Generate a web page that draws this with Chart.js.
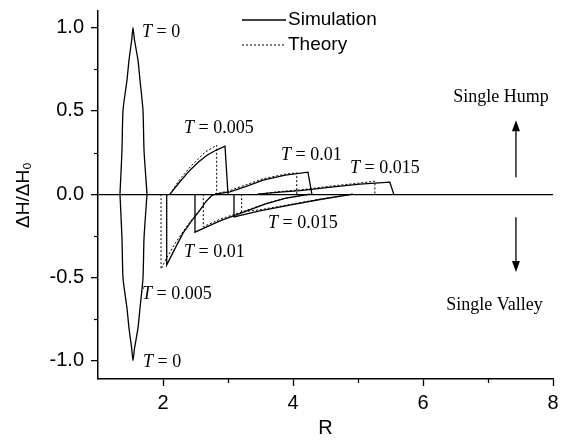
<!DOCTYPE html>
<html>
<head>
<meta charset="utf-8">
<script src="https://cdn.jsdelivr.net/npm/chart.js@4.4.1/dist/chart.umd.min.js"></script>
<style>
  body { margin: 0; background: #fff; }
  #wrap { width: 562px; height: 443px; }
</style>
</head>
<body>
<div id="wrap"><canvas id="myChart" width="562" height="443"></canvas></div>
<script>
// T = 0 (same for simulation and theory)
var t0UpR = [1.338, 1.369, 1.385, 1.446, 1.477, 1.518, 1.538, 1.562, 1.615, 1.646, 1.692, 1.708, 1.754];
var t0UpV = [0, 0.264, 0.505, 0.685, 0.805, 0.925, 1.0, 0.925, 0.805, 0.685, 0.505, 0.264, 0];
var t0DnV = [0, -0.264, -0.505, -0.685, -0.805, -0.925, -1.0, -0.925, -0.805, -0.685, -0.505, -0.264, 0];

// simulation, humps and valleys
var sim005HumpR = [2.108, 2.25, 2.415, 2.55, 2.677, 2.82, 2.954, 3.0];
var sim005HumpV = [0, 0.07, 0.144, 0.195, 0.234, 0.265, 0.288, 0];
var sim005ValR = [2.057, 2.057, 2.18, 2.308, 2.44, 2.569, 2.66, 2.75, 2.82];
var sim005ValV = [0, -0.426, -0.33, -0.234, -0.16, -0.096, -0.045, -0.008, 0];
var sim01HumpR = [2.8, 3.03, 3.29, 3.54, 3.88, 4.23, 4.29];
var sim01HumpV = [0, 0.014, 0.048, 0.084, 0.114, 0.132, 0];
var sim01ValR = [2.492, 2.492, 2.877, 3.262, 3.569, 3.877, 4.26];
var sim01ValV = [0, -0.228, -0.16, -0.105, -0.06, -0.025, 0];
var sim015HumpR = [3.46, 3.8, 4.11, 4.62, 5.03, 5.49, 5.55];
var sim015HumpV = [0, 0.012, 0.021, 0.044, 0.06, 0.072, 0];
var sim015ValR = [3.092, 3.092, 3.49, 3.95, 4.415, 4.92];
var sim015ValV = [0, -0.136, -0.1, -0.066, -0.032, 0];

// theory
var th005HumpR = [2.108, 2.25, 2.415, 2.55, 2.646, 2.826, 2.826];
var th005HumpV = [0, 0.085, 0.162, 0.215, 0.252, 0.294, 0];
var th005ValR = [1.97, 1.97, 2.06, 2.18, 2.308, 2.44, 2.569, 2.66, 2.75, 2.82];
var th005ValV = [0, -0.45, -0.38, -0.30, -0.225, -0.155, -0.094, -0.044, -0.008, 0];
var th01HumpR = [2.8, 3.03, 3.29, 3.54, 3.88, 4.057, 4.057];
var th01HumpV = [0, 0.022, 0.058, 0.093, 0.12, 0.128, 0];
var th01ValR = [2.62, 2.62, 2.877, 3.262, 3.569, 3.877, 4.26];
var th01ValV = [0, -0.196, -0.15, -0.1, -0.058, -0.024, 0];
var th015HumpR = [3.46, 3.8, 4.11, 4.62, 5.03, 5.26, 5.26];
var th015HumpV = [0, 0.016, 0.026, 0.05, 0.067, 0.078, 0];
var th015ValR = [3.21, 3.21, 3.49, 3.95, 4.415, 4.92];
var th015ValV = [0, -0.106, -0.094, -0.062, -0.03, 0];

// T labels: text, R, value (left edge, middle)
var tLabelText = ['0', '0.005', '0.01', '0.015', '0.015', '0.01', '0.005', '0'];
var tLabelR = [1.677, 2.323, 3.815, 4.877, 3.615, 2.323, 1.677, 1.692];
var tLabelV = [0.973, 0.396, 0.234, 0.156, -0.174, -0.348, -0.6, -1.009];

var xTicks = [2, 4, 6, 8];
var xMinor = [3, 5, 7];
var yTicks = [-1.0, -0.5, 0.0, 0.5, 1.0];
var yMinor = [-0.75, -0.25, 0.25, 0.75];

function pts(rs, vs) {
  return rs.map(function (r, i) { return { x: r, y: vs[i] }; });
}

function simSet(rs, vs, tension) {
  return { data: pts(rs, vs), borderColor: '#000', borderWidth: 1.3, pointRadius: 0, showLine: true, tension: tension || 0, fill: false };
}
function thSet(rs, vs) {
  return { data: pts(rs, vs), borderColor: '#000', borderWidth: 1, borderDash: [2, 2], pointRadius: 0, showLine: true, tension: 0, fill: false };
}

var datasets = [
  simSet(t0UpR, t0UpV, 0.2), simSet(t0UpR, t0DnV, 0.2),
  thSet(th005HumpR, th005HumpV), thSet(th005ValR, th005ValV),
  thSet(th01HumpR, th01HumpV), thSet(th01ValR, th01ValV),
  thSet(th015HumpR, th015HumpV), thSet(th015ValR, th015ValV),
  simSet(sim005HumpR, sim005HumpV), simSet(sim005ValR, sim005ValV),
  simSet(sim01HumpR, sim01HumpV), simSet(sim01ValR, sim01ValV),
  simSet(sim015HumpR, sim015HumpV), simSet(sim015ValR, sim015ValV)
];

function isIn(list, v) {
  for (var i = 0; i < list.length; i++) if (Math.abs(list[i] - v) < 1e-6) return true;
  return false;
}

// draws minor ticks, the legend, T labels, arrows and side notes
var notes = {
  id: 'notes',
  afterDatasetsDraw: function (chart) {
    var c = chart.ctx;
    var xs = chart.scales.x, ys = chart.scales.y;
    var area = chart.chartArea;
    c.save();
    c.fillStyle = '#000';
    c.strokeStyle = '#000';
    c.textBaseline = 'middle';

    // minor ticks
    c.lineWidth = 1.2;
    xMinor.forEach(function (v) {
      var p = Math.round(xs.getPixelForValue(v)) + 0.5;
      c.beginPath(); c.moveTo(p, area.bottom); c.lineTo(p, area.bottom + 4); c.stroke();
    });
    yMinor.forEach(function (v) {
      var p = Math.round(ys.getPixelForValue(v)) + 0.5;
      c.beginPath(); c.moveTo(area.left, p); c.lineTo(area.left - 4, p); c.stroke();
    });

    // legend
    c.lineWidth = 1.3;
    c.beginPath(); c.moveTo(242, 20); c.lineTo(286, 20); c.stroke();
    c.lineWidth = 1;
    c.setLineDash([2, 2]);
    c.beginPath(); c.moveTo(242, 45); c.lineTo(286, 45); c.stroke();
    c.setLineDash([]);
    c.font = '19px "Liberation Sans", Arial, sans-serif';
    c.textAlign = 'left';
    c.fillText('Simulation', 288, 20);
    c.fillText('Theory', 288, 45);

    // T = ... labels
    for (var i = 0; i < tLabelText.length; i++) {
      var px = xs.getPixelForValue(tLabelR[i]);
      var py = ys.getPixelForValue(tLabelV[i]);
      c.font = 'italic 18px "Liberation Serif", "Times New Roman", serif';
      c.fillText('T', px, py);
      var w = c.measureText('T').width;
      c.font = '18px "Liberation Serif", "Times New Roman", serif';
      c.fillText(' = ' + tLabelText[i], px + w, py);
    }

    // side notes
    c.textAlign = 'center';
    c.font = '18px "Liberation Serif", "Times New Roman", serif';
    c.fillText('Single Hump', xs.getPixelForValue(7.2), ys.getPixelForValue(0.583));
    c.fillText('Single Valley', xs.getPixelForValue(7.1), ys.getPixelForValue(-0.667));

    // arrows
    var ax = xs.getPixelForValue(7.43);
    var upTop = ys.getPixelForValue(0.444), upBot = ys.getPixelForValue(0.102);
    var dnTop = ys.getPixelForValue(-0.138), dnBot = ys.getPixelForValue(-0.468);
    c.lineWidth = 1.3;
    c.beginPath(); c.moveTo(ax, upBot); c.lineTo(ax, upTop + 8); c.stroke();
    c.beginPath(); c.moveTo(ax, upTop); c.lineTo(ax - 4, upTop + 11); c.lineTo(ax + 4, upTop + 11); c.closePath(); c.fill();
    c.beginPath(); c.moveTo(ax, dnTop); c.lineTo(ax, dnBot - 8); c.stroke();
    c.beginPath(); c.moveTo(ax, dnBot); c.lineTo(ax - 4, dnBot - 11); c.lineTo(ax + 4, dnBot - 11); c.closePath(); c.fill();
    c.restore();
  }
};

var ctx = document.getElementById('myChart').getContext('2d');
var chart = new Chart(ctx, {
  type: 'scatter',
  data: { datasets: datasets },
  options: {
    responsive: false,
    animation: false,
    layout: { padding: { left: 0, right: 9, top: 11, bottom: 0 } },
    plugins: { legend: { display: false }, tooltip: { enabled: false } },
    scales: {
      x: {
        type: 'linear',
        min: 1, max: 8,
        afterFit: function (s) { s.height = 64; s.paddingLeft = 0; s.paddingRight = 0; },
        ticks: {
          stepSize: 1,
          color: '#000',
          padding: 5,
          font: { family: '"Liberation Sans", Arial, sans-serif', size: 20 },
          callback: function (v) { return isIn(xTicks, v) ? String(v) : ''; }
        },
        grid: {
          drawOnChartArea: false, drawTicks: true, tickLength: 7, tickWidth: 1.3,
          tickColor: function (c) { return c.tick && isIn(xTicks, c.tick.value) ? '#000' : 'rgba(0,0,0,0)'; }
        },
        border: { display: true, color: '#000', width: 1.5 },
        title: { display: true, text: 'R', color: '#000', padding: { top: 2, bottom: 3 },
          font: { family: '"Liberation Sans", Arial, sans-serif', size: 20 } }
      },
      y: {
        type: 'linear',
        min: -1.11, max: 1.1,
        afterFit: function (s) { s.width = 98; s.paddingTop = 0; s.paddingBottom = 0; },
        ticks: {
          stepSize: 0.25,
          includeBounds: false,
          color: '#000',
          padding: 7,
          font: { family: '"Liberation Sans", Arial, sans-serif', size: 20 },
          callback: function (v) {
            for (var i = 0; i < yTicks.length; i++) {
              if (Math.abs(yTicks[i] - v) < 1e-6) return yTicks[i].toFixed(1);
            }
            return '';
          }
        },
        grid: {
          drawOnChartArea: true, drawTicks: true, tickLength: 7, tickWidth: 1.3,
          tickColor: function (c) { return c.tick && isIn(yTicks, c.tick.value) ? '#000' : 'rgba(0,0,0,0)'; },
          color: function (c) { return c.tick && Math.abs(c.tick.value) < 1e-6 ? '#000' : 'rgba(0,0,0,0)'; },
          lineWidth: 1.3
        },
        border: { display: true, color: '#000', width: 1.5 },
        title: { display: true, text: 'ΔH/ΔH₀', color: '#000', padding: { top: 12, bottom: 4 },
          font: { family: '"Liberation Sans", Arial, sans-serif', size: 19 } }
      }
    }
  },
  plugins: [notes]
});
</script>
</body>
</html>
